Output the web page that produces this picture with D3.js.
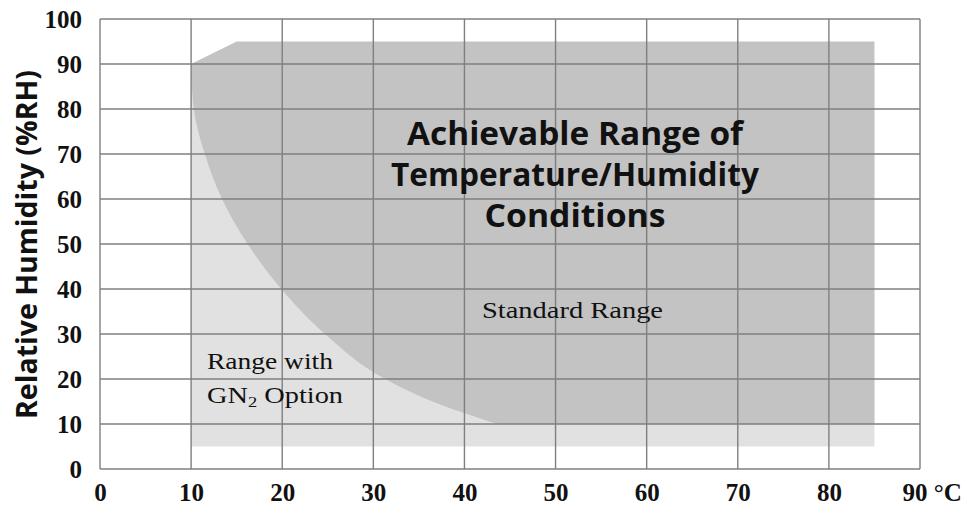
<!DOCTYPE html>
<html>
<head>
<meta charset="utf-8">
<script src="https://cdn.jsdelivr.net/npm/d3@7"></script>
<style>
  html, body { margin: 0; padding: 0; background: #fff; }
  svg { display: block; }
</style>
</head>
<body>
<div id="chart"></div>
<script>
// ---- data ----
const xTicks = [0, 10, 20, 30, 40, 50, 60, 70, 80, 90];
const xTickLabels = ["0", "10", "20", "30", "40", "50", "60", "70", "80", "90"];
const yTicks = [0, 10, 20, 30, 40, 50, 60, 70, 80, 90, 100];
const yTickLabels = ["0", "10", "20", "30", "40", "50", "60", "70", "80", "90", "100"];
const xUnit = "°C";
const yTitle = "Relative Humidity (%RH)";

// GN2 option range (temperature °C, humidity %RH)
const gn2Range = [[10, 5], [85, 5], [85, 90], [10, 90]];
// Standard range: curved low-humidity boundary (from top to bottom)
const standardCurve = [[10, 90], [10.3, 80], [11.5, 70], [13.4, 60], [16.2, 50],
                       [19.9, 40], [24.7, 30], [31.3, 20], [36.5, 15], [43.6, 10]];
// Standard range: straight corners (continuing from curve end)
const standardCorners = [[85, 10], [85, 95], [15, 95]];

const titleLines = ["Achievable Range of", "Temperature/Humidity", "Conditions"];
const standardLabel = "Standard Range";
const gn2Label1 = "Range with";

// ---- layout ----
const W = 967, H = 506;
const svg = d3.select("#chart").append("svg").attr("width", W).attr("height", H);

const x = d3.scaleLinear().domain([0, 90]).range([100, 920]);
const y = d3.scaleLinear().domain([0, 100]).range([469, 19]);

const darkFill = "#c3c3c3", lightFill = "#e1e1e1", gridColor = "#7f7f7f";

// light region
svg.append("path")
  .attr("d", d3.line().x(d => x(d[0])).y(d => y(d[1]))(gn2Range) + "Z")
  .attr("fill", lightFill);

// dark region
const curvePath = d3.line().x(d => x(d[0])).y(d => y(d[1])).curve(d3.curveMonotoneY)(standardCurve);
const linPath = d3.line().x(d => x(d[0])).y(d => y(d[1]))(standardCorners);
svg.append("path")
  .attr("d", curvePath + "L" + linPath.slice(1) + "Z")
  .attr("fill", darkFill);

// grid
const grid = svg.append("g").attr("stroke", gridColor).attr("stroke-width", 1.4).attr("fill", "none");
grid.selectAll("line.v").data(xTicks).join("line")
  .attr("x1", d => x(d)).attr("x2", d => x(d)).attr("y1", y(0)).attr("y2", y(100));
grid.selectAll("line.h").data(yTicks).join("line")
  .attr("y1", d => y(d)).attr("y2", d => y(d)).attr("x1", x(0)).attr("x2", x(90));

// axes
const tickFont = "'Liberation Serif', 'DejaVu Serif', serif";
const yAxis = svg.append("g").attr("transform", `translate(${x(0)},0)`)
  .call(d3.axisLeft(y).tickValues(yTicks).tickSize(0).tickPadding(18)
        .tickFormat((d, i) => yTickLabels[i]));
yAxis.select(".domain").remove();
yAxis.selectAll("text").attr("font-family", tickFont).attr("font-weight", "bold")
  .attr("font-size", 25).attr("fill", "#111");

const xAxis = svg.append("g").attr("transform", `translate(0,${y(0)})`)
  .call(d3.axisBottom(x).tickValues(xTicks).tickSize(0).tickPadding(14)
        .tickFormat((d, i) => xTickLabels[i]));
xAxis.select(".domain").remove();
xAxis.selectAll("text").attr("font-family", tickFont).attr("font-weight", "bold")
  .attr("font-size", 25).attr("fill", "#111");
// last label shifted with unit
const lastTick = xAxis.selectAll(".tick").filter(d => d === 90);
lastTick.select("text").attr("text-anchor", "start").attr("x", -18)
  .text(xTickLabels[xTickLabels.length - 1] + " " + xUnit);

// y title
svg.append("text")
  .attr("transform", `translate(37,${(70 + 419) / 2}) rotate(-90)`)
  .attr("text-anchor", "middle")
  .attr("font-family", "'Open Sans', 'Liberation Sans', sans-serif")
  .attr("font-weight", "bold").attr("font-size", 29).attr("fill", "#111")
  .attr("textLength", 349).attr("lengthAdjust", "spacingAndGlyphs")
  .text(yTitle);

// big title
const tWidths = [336, 368, 181];
const tBase = [145, 186, 227];
svg.append("g").selectAll("text").data(titleLines).join("text")
  .attr("x", 575).attr("y", (d, i) => tBase[i])
  .attr("text-anchor", "middle")
  .attr("font-family", "'Open Sans', 'Liberation Sans', sans-serif")
  .attr("font-weight", "bold").attr("font-size", 32).attr("fill", "#111")
  .attr("textLength", (d, i) => tWidths[i]).attr("lengthAdjust", "spacingAndGlyphs")
  .text(d => d);

// region labels
const serif = "'Liberation Serif', 'DejaVu Serif', serif";
svg.append("text").attr("x", 482).attr("y", 318)
  .attr("font-family", serif).attr("font-size", 23).attr("fill", "#111")
  .attr("textLength", 181).attr("lengthAdjust", "spacingAndGlyphs")
  .text(standardLabel);

svg.append("text").attr("x", 207).attr("y", 369)
  .attr("font-family", serif).attr("font-size", 23).attr("fill", "#111")
  .attr("textLength", 126).attr("lengthAdjust", "spacingAndGlyphs")
  .text(gn2Label1);

const g2 = svg.append("text").attr("x", 207).attr("y", 403)
  .attr("font-family", serif).attr("font-size", 23).attr("fill", "#111")
  .attr("textLength", 136).attr("lengthAdjust", "spacingAndGlyphs");
g2.append("tspan").text("GN");
g2.append("tspan").attr("font-size", 15).attr("dy", 4).text("2");
g2.append("tspan").attr("dy", -4).text(" Option");
</script>
</body>
</html>
